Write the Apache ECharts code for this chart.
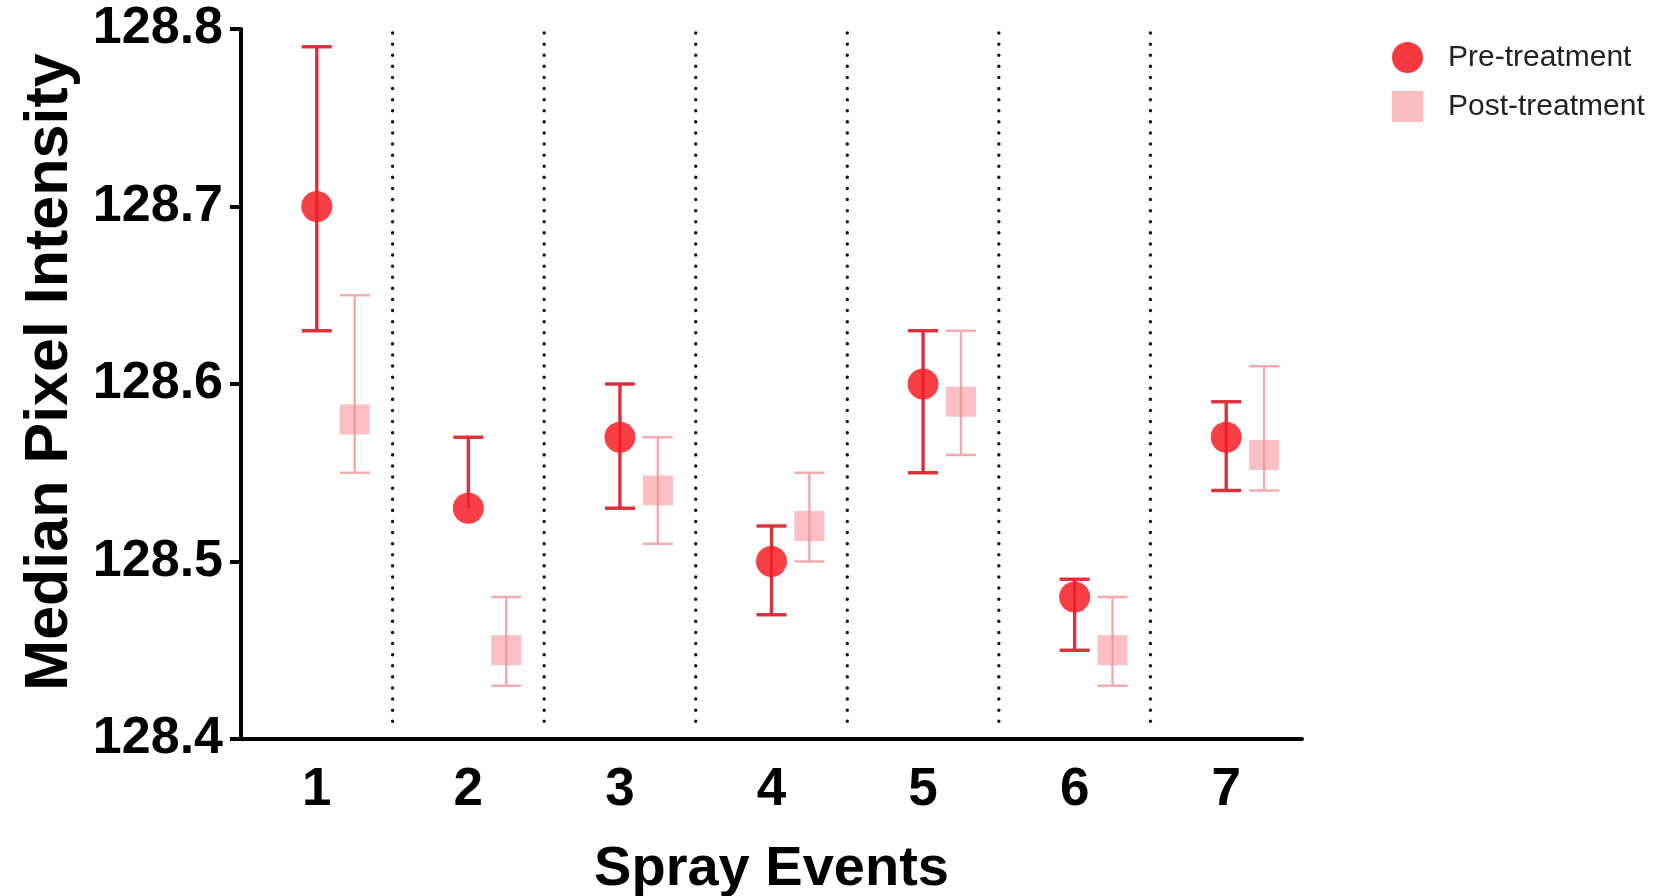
<!DOCTYPE html>
<html>
<head>
<meta charset="utf-8">
<title>Median Pixel Intensity</title>
<script src="https://cdn.jsdelivr.net/npm/echarts@6/dist/echarts.min.js"></script>
<style>
  html, body { margin: 0; padding: 0; background: #fff; }
  #chart { width: 1667px; height: 896px; }
</style>
</head>
<body>
<div id="chart"></div>
<script>
// spray events on the x axis
const categories = ['1', '2', '3', '4', '5', '6', '7']

// pre-treatment: median and error range
const preMedian = [128.70, 128.53, 128.57, 128.50, 128.60, 128.48, 128.57]
const preLow = [128.63, null, 128.53, 128.47, 128.55, 128.45, 128.54]
const preHigh = [128.79, 128.57, 128.60, 128.52, 128.63, 128.49, 128.59]

// post-treatment
const postMedian = [128.58, 128.45, 128.54, 128.52, 128.59, 128.45, 128.56]
const postLow = [128.55, 128.43, 128.51, 128.50, 128.56, 128.43, 128.54]
const postHigh = [128.65, 128.48, 128.57, 128.55, 128.63, 128.48, 128.61]

const yTicks = [128.4, 128.5, 128.6, 128.7, 128.8]

const FONT = "'Liberation Sans', Arial, sans-serif"

const toRows = (median, low, high) => categories.map((c, i) => [i, median[i], low[i], high[i]])

function errorBarRender (offsetRatio, opts) {
  return function (params, api) {
    const band = api.size([1, 0])[0]
    const idx = api.value(0)
    const pMean = api.coord([idx, api.value(1)])
    const x = pMean[0] + band * offsetRatio
    const yMean = pMean[1]
    const low = api.value(2)
    const high = api.value(3)
    const yLow = isNaN(low) ? yMean : api.coord([idx, low])[1]
    const yHigh = isNaN(high) ? yMean : api.coord([idx, high])[1]
    const lineStyle = { stroke: opts.lineColor, lineWidth: opts.lineWidth }
    const cap = opts.capHalf
    const children = [
      { type: 'line', shape: { x1: x, y1: yLow, x2: x, y2: yHigh }, style: lineStyle }
    ]
    if (!isNaN(low)) {
      children.push({ type: 'line', shape: { x1: x - cap, y1: yLow, x2: x + cap, y2: yLow }, style: lineStyle })
    }
    if (!isNaN(high)) {
      children.push({ type: 'line', shape: { x1: x - cap, y1: yHigh, x2: x + cap, y2: yHigh }, style: lineStyle })
    }
    if (opts.shape === 'circle') {
      children.push({ type: 'circle', shape: { cx: x, cy: yMean, r: opts.size / 2 }, style: { fill: opts.fill } })
    } else {
      const s = opts.size
      children.push({ type: 'rect', shape: { x: x - s / 2, y: yMean - s / 2, width: s, height: s }, style: { fill: opts.fill } })
    }
    return { type: 'group', children: children }
  }
}

// dotted separators between neighbouring events
function separatorRender (params, api) {
  const i = api.value(0)
  const a = api.coord([i, 128.8])
  const b = api.coord([i + 1, 128.4])
  const x = (a[0] + b[0]) / 2
  return {
    type: 'line',
    shape: { x1: x, y1: a[1] + 4, x2: x, y2: b[1] - 7 },
    style: { stroke: '#111', lineWidth: 3.4, lineDash: [0.1, 11], lineCap: 'round' }
  }
}

const chart = echarts.init(document.getElementById('chart'))

const option = {
  backgroundColor: '#fff',
  animation: false,
  // keep the plot box fixed, labels may sit outside it
  grid: { left: 241, right: 365, top: 29, bottom: 157, containLabel: false, outerBoundsMode: 'none' },
  legend: {
    orient: 'vertical',
    left: 1387,
    top: 37,
    itemWidth: 31,
    itemHeight: 31,
    itemGap: 18,
    data: [
      { name: 'Pre-treatment', icon: 'circle' },
      { name: 'Post-treatment', icon: 'rect' }
    ],
    textStyle: { fontFamily: FONT, fontSize: 30, color: '#222', padding: [0, 0, 0, 20] }
  },
  xAxis: {
    type: 'category',
    data: categories,
    boundaryGap: true,
    name: 'Spray Events',
    nameLocation: 'middle',
    nameGap: 103,
    nameTextStyle: { fontFamily: FONT, fontWeight: 'bold', fontSize: 56, color: '#000' },
    axisLine: { lineStyle: { color: '#000', width: 4 } },
    axisTick: { alignWithLabel: true, length: 11, lineStyle: { color: '#000', width: 4 } },
    axisLabel: { fontFamily: FONT, fontWeight: 'bold', fontSize: 53, color: '#000', margin: 25 },
    splitLine: { show: false }
  },
  yAxis: {
    type: 'value',
    min: yTicks[0],
    max: yTicks[yTicks.length - 1],
    interval: 0.1,
    name: 'Median Pixel Intensity',
    nameLocation: 'middle',
    nameGap: 160,
    nameTextStyle: {
      fontFamily: FONT,
      fontWeight: 'bold',
      fontSize: 61,
      color: '#000',
      padding: [0, 0, 0, 24]
    },
    axisLine: { show: true, lineStyle: { color: '#000', width: 4 } },
    axisTick: { show: true, length: 11, lineStyle: { color: '#000', width: 4 } },
    axisLabel: {
      fontFamily: FONT,
      fontWeight: 'bold',
      fontSize: 52,
      color: '#000',
      margin: 18,
      formatter: v => v.toFixed(1)
    },
    splitLine: { show: false }
  },
  series: [
    {
      name: 'separators',
      type: 'custom',
      silent: true,
      renderItem: separatorRender,
      data: categories.slice(0, -1).map((c, i) => [i])
    },
    {
      name: 'Post-treatment',
      type: 'custom',
      itemStyle: { color: '#f9bcbf' },
      renderItem: errorBarRender(0.25, {
        shape: 'rect',
        size: 30,
        fill: 'rgba(245, 140, 146, 0.55)',
        lineColor: '#f4a8ab',
        lineWidth: 2.4,
        capHalf: 15
      }),
      data: toRows(postMedian, postLow, postHigh)
    },
    {
      name: 'Pre-treatment',
      type: 'custom',
      itemStyle: { color: '#f43a3f' },
      renderItem: errorBarRender(0, {
        shape: 'circle',
        size: 31,
        fill: 'rgba(246, 30, 36, 0.85)',
        lineColor: '#dc2f38',
        lineWidth: 3.4,
        capHalf: 15
      }),
      data: toRows(preMedian, preLow, preHigh)
    }
  ]
}

chart.setOption(option)
</script>
</body>
</html>
